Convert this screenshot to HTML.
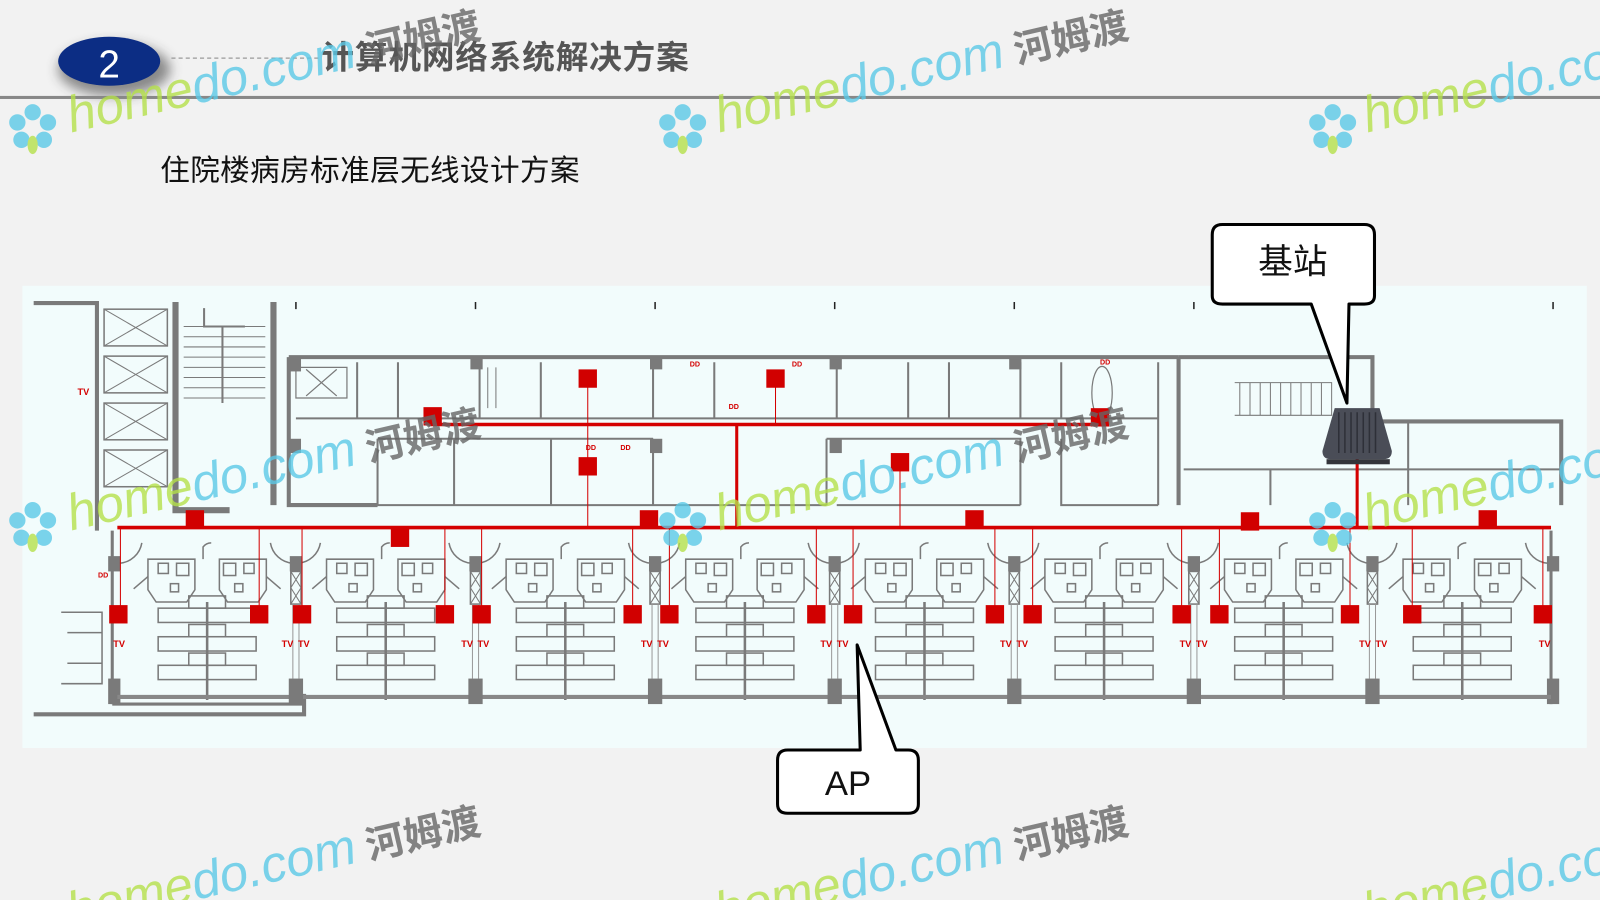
<!DOCTYPE html>
<html><head><meta charset="utf-8"><style>
html,body{margin:0;padding:0;background:#f2f2f2;}
svg{display:block}
text{font-family:"Liberation Sans","Noto Sans CJK SC",sans-serif;}
</style></head><body>
<svg width="1600" height="900" viewBox="0 0 1568 882" preserveAspectRatio="none" xmlns="http://www.w3.org/2000/svg">
<defs>
<filter id="sh" x="-50%" y="-50%" width="200%" height="200%"><feGaussianBlur stdDeviation="6"/></filter>
<g id="mod" fill="none" stroke="#7a7a7a" stroke-width="1.5">
  <path d="M30 548 h46 v30 l-8 12 h-30 l-8 -12 z M100 548 h46 v30 l-8 12 h-30 l-8 -12 z"/>
  <path d="M30 565 l-14 12 M146 565 l14 12"/>
  <rect x="40" y="552" width="10" height="10"/><rect x="58" y="552" width="12" height="12"/><rect x="104" y="552" width="12" height="12"/><rect x="124" y="552" width="10" height="10"/>
  <rect x="52" y="572" width="8" height="8"/><rect x="115" y="572" width="8" height="8"/>
  <path d="M88 590 V686" stroke-width="2.5"/>
  <path d="M84 548 v-12 a10 10 0 0 1 8 -4"/>
  <rect x="40" y="596" width="96" height="14"/><rect x="40" y="624" width="96" height="14"/><rect x="40" y="652" width="96" height="14"/>
  <rect x="70" y="584" width="36" height="12"/><rect x="70" y="612" width="36" height="12"/><rect x="70" y="640" width="36" height="12"/>
  <path d="M0 683 H175" stroke="#888" stroke-width="4"/>
  <path d="M2 552 a24 24 0 0 0 22 -20 M150 532 a24 24 0 0 0 22 20"/>
</g>
<g id="pil">
  <rect x="-6" y="545" width="12" height="15" fill="#7a7a7a"/>
  <rect x="-5" y="560" width="10" height="32" fill="none" stroke="#7a7a7a" stroke-width="1.5"/>
  <path d="M-5 560 l10 16 M5 560 l-10 16 M-5 576 l10 16 M5 576 l-10 16" stroke="#7a7a7a" stroke-width="1"/>
  <path d="M-3 592 V665 M3 592 V665" stroke="#999" stroke-width="1"/>
  <rect x="-7" y="665" width="14" height="25" fill="#7a7a7a"/>
</g>
<g id="flw">
  <circle cx="0" cy="-16" r="8" fill="#5bc9e6"/><circle cx="-15" cy="-6" r="8" fill="#5bc9e6"/><circle cx="15" cy="-6" r="8" fill="#5bc9e6"/>
  <circle cx="-11" cy="11" r="8" fill="#5bc9e6"/><circle cx="11" cy="11" r="8" fill="#5bc9e6"/>
  <ellipse cx="0" cy="16" rx="5" ry="9" fill="#b5e04a"/>
</g>
<g id="wm">
  <text font-size="50" font-style="italic"><tspan fill="#b5e04a">home</tspan><tspan fill="#5bc9e6">do.com</tspan><tspan font-size="38" fill="#666" font-weight="bold" font-style="normal"> 河姆渡</tspan></text>
</g>
</defs>

<rect width="1568" height="882" fill="#f2f2f2"/>

<!-- header -->
<ellipse cx="112" cy="68" rx="55" ry="26" fill="#333" opacity="0.55" filter="url(#sh)"/>
<ellipse cx="107" cy="60" rx="50" ry="24" fill="#0c2d84"/>
<text x="107" y="76" font-size="38" fill="#fff" text-anchor="middle">2</text>
<line x1="168" y1="57" x2="315" y2="57" stroke="#999" stroke-width="1.2" stroke-dasharray="4 3"/>
<text x="315" y="67" font-size="32" font-weight="bold" fill="#555" textLength="360">计算机网络系统解决方案</text>
<rect x="0" y="94" width="1568" height="3" fill="#888"/>
<text x="157" y="177" font-size="29" fill="#111" textLength="411">住院楼病房标准层无线设计方案</text>

<!-- plan background -->
<rect x="22" y="280" width="1533" height="453" fill="#f2fcfc"/>

<g stroke="#7a7a7a" fill="none">
  <path d="M290 296v7 M466 296v7 M642 296v7 M818 296v7 M994 296v7 M1170 296v7 M1522 296v7" stroke="#222" stroke-width="1.5"/>
  <path d="M33 297 H95 V495 M95 297 V520" stroke-width="4"/>
  <path d="M33 700 H298 V680" stroke-width="4"/>
  <rect x="102" y="303" width="62" height="36" stroke-width="1.5"/><path d="M102 303 l62 36 M164 303 l-62 36"/>
  <rect x="102" y="349" width="62" height="36" stroke-width="1.5"/><path d="M102 349 l62 36 M164 349 l-62 36"/>
  <rect x="102" y="395" width="62" height="36" stroke-width="1.5"/><path d="M102 395 l62 36 M164 395 l-62 36"/>
  <rect x="102" y="441" width="62" height="36" stroke-width="1.5"/><path d="M102 441 l62 36 M164 441 l-62 36"/>
  <path d="M172 296 V500 H225 M268 296 V495" stroke-width="6"/>
  <path d="M180 320 h80 M180 330 h80 M180 340 h80 M180 350 h80 M180 360 h80 M180 370 h80 M180 380 h80 M180 390 h80" stroke-width="1"/>
  <path d="M218 320 V395 M200 302 v18 h40" stroke-width="2"/>
  <path d="M283 350 H1155 M283 350 V495 H370" stroke-width="4"/>
  <path d="M60 600 h40 v70 h-40 M66 620 h34 M66 650 h34"  stroke-width="1.5"/>
  <path d="M290 360 h50 v30 h-50 z M300 362 l30 26 M330 362 l-30 26" stroke-width="1.2"/>
  <path d="M350 355 V410 M390 355 V410 M470 355 V410 M530 355 V410 M640 355 V410 M700 355 V410 M820 355 V410 M890 355 V410 M930 355 V410 M1000 355 V410 M1040 355 V410 M1135 355 V495" stroke-width="2"/>
  <path d="M290 410 H1135" stroke-width="2"/>
  <path d="M370 430 H640 M370 430 V495 M445 430 V495 M540 430 V495 M640 430 V495 M370 495 H810" stroke-width="2"/>
  <path d="M810 430 H1000 V495 M810 430 V495 M1040 430 V495 H1135 M820 495 H1000" stroke-width="2"/>
  <rect x="461" y="350" width="12" height="12" fill="#7a7a7a" stroke="none"/><rect x="637" y="350" width="12" height="12" fill="#7a7a7a" stroke="none"/><rect x="813" y="350" width="12" height="12" fill="#7a7a7a" stroke="none"/><rect x="989" y="350" width="12" height="12" fill="#7a7a7a" stroke="none"/>
  <rect x="283" y="350" width="12" height="14" fill="#7a7a7a" stroke="none"/><rect x="283" y="430" width="12" height="14" fill="#7a7a7a" stroke="none"/>
  <rect x="637" y="430" width="12" height="14" fill="#7a7a7a" stroke="none"/><rect x="813" y="430" width="12" height="14" fill="#7a7a7a" stroke="none"/>
  <path d="M470 360 V400 M478 360 V400 M486 360 V400" stroke-width="1"/>
  <ellipse cx="1080" cy="385" rx="10" ry="26" stroke-width="1.2"/>
  <path d="M1155 350 H1345 V413 H1530 V495 M1155 350 V495 M1530 413 V495" stroke-width="4"/>
  <path d="M1210 375 h95 v32 h-95 M1215 375 V407 M1225 375 V407 M1235 375 V407 M1245 375 V407 M1255 375 V407 M1265 375 V407 M1275 375 V407 M1285 375 V407 M1295 375 V407" stroke-width="1"/>
  <path d="M1160 460 H1530 M1245 460 V495 M1380 413 V495" stroke-width="2"/>
  <path d="M110 520 V690 M110 690 H298" stroke-width="3"/>
  <rect x="106" y="545" width="12" height="15" fill="#7a7a7a" stroke="none"/><rect x="106" y="665" width="12" height="25" fill="#7a7a7a" stroke="none"/>
  <path d="M1520 520 V690" stroke-width="3"/>
  <rect x="1516" y="545" width="12" height="15" fill="#7a7a7a" stroke="none"/><rect x="1516" y="665" width="12" height="25" fill="#7a7a7a" stroke="none"/>
</g>
<use href="#mod" x="115"/><use href="#mod" x="290"/><use href="#mod" x="466"/><use href="#mod" x="642"/>
<use href="#mod" x="818"/><use href="#mod" x="994"/><use href="#mod" x="1170"/><use href="#mod" x="1345"/>
<use href="#pil" x="290"/><use href="#pil" x="466"/><use href="#pil" x="642"/><use href="#pil" x="818"/>
<use href="#pil" x="994"/><use href="#pil" x="1170"/><use href="#pil" x="1345"/>

<!-- red network -->
<g stroke="#d40000" fill="none">
  <path d="M115 517 H1520" stroke-width="3.5"/>
  <path d="M420 416 H1085" stroke-width="3.5"/>
  <path d="M722 416 V517" stroke-width="3"/>
  <path d="M1330 445 V517" stroke-width="3"/>
  <path d="M118 517 V600 M254 517 V600 M296 517 V600 M436 517 V600 M472 517 V600 M620 517 V600 M656 517 V600 M800 517 V600 M836 517 V600 M975 517 V600 M1012 517 V600 M1158 517 V600 M1195 517 V600 M1323 517 V600 M1384 517 V600 M1512 517 V600 M576 370 V517 M760 372 V416 M882 453 V517" stroke-width="1"/>
</g>
<g fill="#d10000">
  <rect x="107" y="593" width="18" height="18"/><rect x="245" y="593" width="18" height="18"/><rect x="287" y="593" width="18" height="18"/><rect x="427" y="593" width="18" height="18"/>
  <rect x="463" y="593" width="18" height="18"/><rect x="611" y="593" width="18" height="18"/><rect x="647" y="593" width="18" height="18"/><rect x="791" y="593" width="18" height="18"/>
  <rect x="827" y="593" width="18" height="18"/><rect x="966" y="593" width="18" height="18"/><rect x="1003" y="593" width="18" height="18"/><rect x="1149" y="593" width="18" height="18"/>
  <rect x="1186" y="593" width="18" height="18"/><rect x="1314" y="593" width="18" height="18"/><rect x="1375" y="593" width="18" height="18"/><rect x="1503" y="593" width="18" height="18"/>
  <rect x="182" y="500" width="18" height="18"/><rect x="383" y="518" width="18" height="18"/><rect x="627" y="500" width="18" height="18"/><rect x="946" y="500" width="18" height="18"/>
  <rect x="1216" y="502" width="18" height="18"/><rect x="1449" y="500" width="18" height="18"/>
  <rect x="567" y="362" width="18" height="18"/><rect x="751" y="362" width="18" height="18"/><rect x="415" y="399" width="18" height="18"/><rect x="1069" y="400" width="18" height="18"/>
  <rect x="567" y="448" width="18" height="18"/><rect x="873" y="444" width="18" height="18"/>
</g>
<g fill="#d40000" font-size="9" font-weight="bold">
  <text x="111" y="634">TV</text><text x="276" y="634">TV</text><text x="292" y="634">TV</text><text x="452" y="634">TV</text><text x="468" y="634">TV</text>
  <text x="628" y="634">TV</text><text x="644" y="634">TV</text><text x="804" y="634">TV</text><text x="820" y="634">TV</text><text x="980" y="634">TV</text>
  <text x="996" y="634">TV</text><text x="1156" y="634">TV</text><text x="1172" y="634">TV</text><text x="1332" y="634">TV</text><text x="1348" y="634">TV</text><text x="1508" y="634">TV</text>
  <text x="76" y="387">TV</text><text x="96" y="566" font-size="7">DD</text><text x="676" y="359" font-size="7">DD</text><text x="776" y="359" font-size="7">DD</text>
  <text x="714" y="401" font-size="7">DD</text><text x="574" y="441" font-size="7">DD</text><text x="608" y="441" font-size="7">DD</text><text x="1078" y="357" font-size="7">DD</text>
</g>

<!-- base station device -->
<path d="M1308 400 h44 l12 42 q0 8 -8 8 h-52 q-8 0 -8 -8 z" fill="#4a4d57"/>
<path d="M1312 404 v40 M1318 404 v40 M1324 404 v40 M1330 404 v40 M1336 404 v40 M1342 404 v40 M1348 404 v40" stroke="#2e3038" stroke-width="1.5"/>
<rect x="1300" y="450" width="62" height="5" fill="#33343a"/>

<!-- watermarks -->
<g opacity="0.8">
  <use href="#wm" transform="translate(70,130) rotate(-13)"/>
  <use href="#wm" transform="translate(705,130) rotate(-13)"/>
  <use href="#wm" transform="translate(1340,130) rotate(-13)"/>
  <use href="#wm" transform="translate(70,520) rotate(-13)"/>
  <use href="#wm" transform="translate(705,520) rotate(-13)"/>
  <use href="#wm" transform="translate(1340,520) rotate(-13)"/>
  <use href="#wm" transform="translate(70,910) rotate(-13)"/>
  <use href="#wm" transform="translate(705,910) rotate(-13)"/>
  <use href="#wm" transform="translate(1340,910) rotate(-13)"/>
  <use href="#flw" x="32" y="126"/><use href="#flw" x="669" y="126"/><use href="#flw" x="1306" y="126"/>
  <use href="#flw" x="32" y="516"/><use href="#flw" x="669" y="516"/><use href="#flw" x="1306" y="516"/>
</g>

<!-- callouts -->
<path d="M1198 220 H1337 Q1347 220 1347 230 V290 Q1347 298 1337 298 H1322 L1320 395 L1285 298 H1198 Q1188 298 1188 290 V230 Q1188 220 1198 220 Z" fill="#fff" stroke="#000" stroke-width="3" stroke-linejoin="round"/>
<text x="1267" y="268" font-size="34" text-anchor="middle" font-family="'Liberation Serif','Noto Serif CJK SC',serif" fill="#111">基站</text>
<path d="M772 735 H843 L840 632 L878 735 H890 Q900 735 900 745 V788 Q900 797 890 797 H772 Q762 797 762 788 V745 Q762 735 772 735 Z" fill="#fff" stroke="#000" stroke-width="3" stroke-linejoin="round"/>
<text x="831" y="779" font-size="34" text-anchor="middle" fill="#111">AP</text>
</svg>
</body></html>
